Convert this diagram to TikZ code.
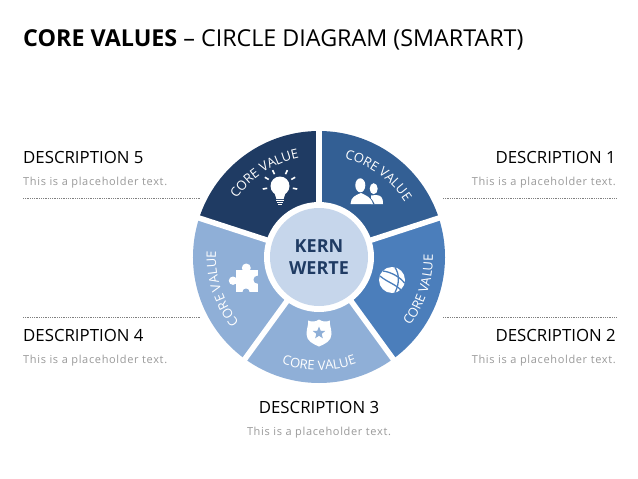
\documentclass[tikz,border=0pt]{standalone}
\usepackage{fontspec}
\setmainfont{Open Sans}
\usetikzlibrary{decorations.text,shapes.geometric}
\definecolor{wdark}{HTML}{1F3B63}
\definecolor{wmid}{HTML}{335F94}
\definecolor{wblue}{HTML}{4B7EBB}
\definecolor{wlight}{HTML}{8FAFD7}
\definecolor{wcentre}{HTML}{C6D6EB}
\definecolor{ptext}{HTML}{9A9A9A}
\newcommand{\wedgeR}{126pt}
\tikzset{
  x=1pt,y=1pt,
  head/.style={font=\fontsize{16.8}{18}\selectfont,text=black,inner sep=0pt},
  ptx/.style={font=\fontsize{11}{13}\selectfont\addfontfeature{LetterSpace=6},text=ptext,inner sep=0pt},
  leader/.style={draw=black!50,line width=0.7pt,dash pattern=on 0.9pt off 0.9pt},
  gapline/.style={draw=white,line width=5.5pt},
  icon/.style={fill=white,draw=none},
  curved/.style={decorate,decoration={text along path,text align=center,text={|\fontsize{13}{15}\selectfont\color{white}|CORE VALUE}}}
}
\begin{document}
\begin{tikzpicture}
\useasboundingbox (0,0) rectangle (638,-479);
\fill[white] (0,0) rectangle (638,-479);
\node[anchor=base west,inner sep=0pt,font=\fontsize{23.3}{26}\selectfont] (title) at (23,-46) {\textbf{CORE VALUES} – CIRCLE DIAGRAM (SMARTART)};
\coordinate (c) at (319,-257);
% wedges
\fill[wmid] (c) -- ++(90:\wedgeR) arc[start angle=90,end angle=18,radius=\wedgeR] -- cycle;
\fill[wblue] (c) -- ++(18:\wedgeR) arc[start angle=18,end angle=-54,radius=\wedgeR] -- cycle;
\fill[wlight] (c) -- ++(-54:\wedgeR) arc[start angle=-54,end angle=-126,radius=\wedgeR] -- cycle;
\fill[wlight] (c) -- ++(-126:\wedgeR) arc[start angle=-126,end angle=-198,radius=\wedgeR] -- cycle;
\fill[wdark] (c) -- ++(162:\wedgeR) arc[start angle=162,end angle=90,radius=\wedgeR] -- cycle;
\foreach \a in {90,18,-54,-126,162} \draw[gapline] (c) -- ++(\a:130pt);
\fill[white] (c) circle[radius=55];
\node[circle,fill=wcentre,minimum size=98pt,inner sep=0pt,align=center,text=wdark,font=\fontsize{18}{21.5}\selectfont\bfseries] (core) at (c) {KERN\\WERTE};
% curved labels
\path[curved] (c) ++(146:101pt) arc[start angle=146,end angle=100,radius=101pt];
\path[curved] (c) ++(77:102pt) arc[start angle=77,end angle=31,radius=102pt];
\path[curved] (c) ++(-41:114pt) arc[start angle=-41,end angle=5,radius=114pt];
\path[curved] (c) ++(-110:113pt) arc[start angle=-110,end angle=-70,radius=113pt];
\path[curved] (c) ++(221:103pt) arc[start angle=221,end angle=175,radius=103pt];
% bulb icon
\begin{scope}[shift={(280,-190)}]
  \fill[icon] (0,4) circle[radius=9.5];
  \fill[icon] (-5.5,-3) -- (5.5,-3) -- (3.6,-9) -- (-3.6,-9) -- cycle;
  \fill[icon] (-3.6,-10) rectangle (3.6,-11.2);
  \fill[icon] (-3.2,-12.2) rectangle (3.2,-13.4);
  \fill[icon] (-2,-14.2) rectangle (2,-15.4);
  \foreach \a in {-10,30,65,115,150,190}
    \draw[white,line width=1.6pt] (0,4) ++(\a:13pt) -- ++(\a:4.5pt);
\end{scope}
% people icon
\begin{scope}[shift={(367,-192)}]
  \fill[icon] (6.7,3.3) ellipse[x radius=4,y radius=5.5];
  \fill[icon] (4,-12) -- (4,-3.5) -- (9,-3) .. controls (14,-3.5) and (16,-5) .. (16,-12) -- cycle;
  \fill[wmid] (-6.7,6.7) ellipse[x radius=6.2,y radius=8.2];
  \fill[icon] (-6.7,6.7) ellipse[x radius=5,y radius=7];
  \fill[wmid] (-17.5,-12) .. controls (-17,-4) and (-12,-2.5) .. (-7,-2) .. controls (-1,-2.5) and (4,-4) .. (7.5,-12) -- cycle;
  \fill[icon] (-16.5,-12) .. controls (-16,-5) and (-12,-3.5) .. (-6,-1) .. controls (-1,-3.5) and (4,-5) .. (6,-12) -- cycle;
\end{scope}
% ball icon
\begin{scope}[shift={(392,-280)}]
  \fill[icon] (0,0) circle[radius=13];
  \draw[wblue,line width=1.3pt] (-12,4) .. controls (-5,-2) and (3,-4) .. (9,-10);
  \draw[wblue,line width=1.3pt] (-9,9) .. controls (-1,8) and (8,3) .. (12.5,-3);
  \draw[wblue,line width=1.3pt] (3,12.5) .. controls (7,7) and (8,-3) .. (3,-12.5);
\end{scope}
% badge icon
\begin{scope}[shift={(319,-333)}]
  \fill[icon] (0,13.5) .. controls (3,11) and (8,11) .. (11,12.5) .. controls (10,9) and (12.5,5) .. (12.5,-1) .. controls (12.5,-8) and (6,-11) .. (0,-13.5) .. controls (-6,-11) and (-12.5,-8) .. (-12.5,-1) .. controls (-12.5,5) and (-10,9) .. (-11,12.5) .. controls (-8,11) and (-3,11) .. (0,13.5) -- cycle;
  \node[star,star points=5,star point ratio=2.3,fill=wlight,minimum size=13pt,inner sep=0pt] (badgestar) at (0,0) {};
\end{scope}
% puzzle icon
\begin{scope}[shift={(243,-279)}]
  \fill[icon] (-7.3,-13) rectangle (14.5,9.3);
  \fill[icon] (3.3,11) circle[radius=4.5];
  \fill[icon] (-10,-1.7) circle[radius=4.2];
  \fill[wlight] (14.5,-0.7) circle[radius=4];
  \fill[wlight] (3,-13) circle[radius=3.5];
\end{scope}
% descriptions
\node[head,anchor=base west] (d5) at (23,-163) {DESCRIPTION 5};
\node[ptx,anchor=base west] (p5) at (23,-185) {This is a placeholder text.};
\node[head,anchor=base west] (d4) at (23,-341) {DESCRIPTION 4};
\node[ptx,anchor=base west] (p4) at (23,-363) {This is a placeholder text.};
\node[head,anchor=base east] (d1) at (616,-163) {DESCRIPTION 1};
\node[ptx,anchor=base east] (p1) at (616,-185) {This is a placeholder text.};
\node[head,anchor=base east] (d2) at (616,-341) {DESCRIPTION 2};
\node[ptx,anchor=base east] (p2) at (616,-363) {This is a placeholder text.};
\node[head,anchor=base] (d3) at (319,-413) {DESCRIPTION 3};
\node[ptx,anchor=base] (p3) at (319,-435) {This is a placeholder text.};
% leaders
\coordinate (l5a) at (23,-198); \coordinate (l5b) at (201,-198);
\coordinate (l4a) at (23,-317); \coordinate (l4b) at (201,-317);
\coordinate (l1a) at (443,-198); \coordinate (l1b) at (616,-198);
\coordinate (l2a) at (443,-317); \coordinate (l2b) at (616,-317);
\draw[leader] (l5a) -- (l5b);
\draw[leader] (l4a) -- (l4b);
\draw[leader] (l1a) -- (l1b);
\draw[leader] (l2a) -- (l2b);
\end{tikzpicture}
\end{document}
